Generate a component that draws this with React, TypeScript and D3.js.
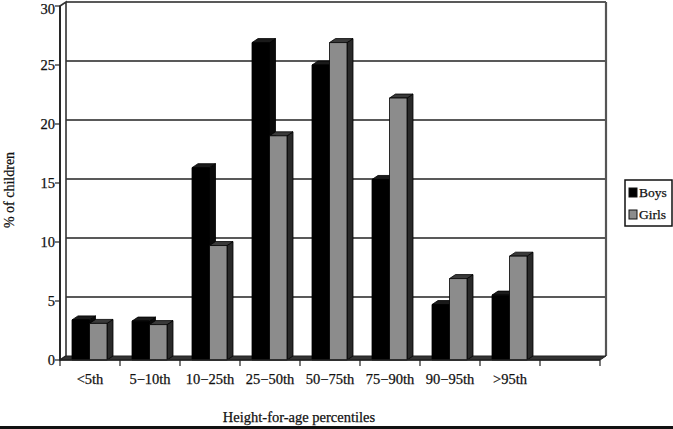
import React from "react";
import * as d3 from "d3";

const categories = ["<5th", "5\u221210th", "10\u221225th", "25\u221250th", "50\u221275th", "75\u221290th", "90\u221295th", ">95th", ""];
const seriesNames = ["Boys", "Girls"];
const boys = [3.4, 3.3, 16.3, 26.9, 25.0, 15.3, 4.7, 5.5, null];
const girls = [3.1, 3.0, 9.7, 19.0, 26.9, 22.2, 6.9, 8.8, null];
const yTicks = [0, 5, 10, 15, 20, 25, 30];

const W = 673;
const H = 429;
const DX = 6;
const DY = 4;
const FONT = "'Liberation Serif', 'Times New Roman', serif";

export default function App() {
  const x = d3.scaleBand<string>().domain(categories.map((c, i) => String(i))).range([60, 600]).padding(0);
  const inner = d3.scaleBand<string>().domain(seriesNames).range([12, 47]).padding(0);
  const y = d3.scaleLinear().domain([0, 30]).range([360, 6]);
  const fills = { Boys: { front: "#000", top: "#1a1a1a", side: "#0a0a0a" }, Girls: { front: "#8c8c8c", top: "#3a3a3a", side: "#2a2a2a" } } as const;
  const series = [boys, girls];

  const bars: React.ReactNode[] = [];
  categories.forEach((c, i) => {
    seriesNames.forEach((s, si) => {
      const v = series[si][i];
      if (v == null) return;
      const x0 = (x(String(i)) as number) + (inner(s) as number);
      const w = inner.bandwidth();
      const yt = y(v);
      const yb = y(0);
      const f = fills[s as "Boys" | "Girls"];
      bars.push(
        <g key={`${i}-${s}`} stroke="#000" strokeWidth={0.8} strokeLinejoin="round">
          <polygon points={`${x0 + w},${yt} ${x0 + w + DX},${yt - DY} ${x0 + w + DX},${yb - DY} ${x0 + w},${yb}`} fill={f.side} />
          <polygon points={`${x0},${yt} ${x0 + DX},${yt - DY} ${x0 + w + DX},${yt - DY} ${x0 + w},${yt}`} fill={f.top} />
          <rect x={x0} y={yt} width={w} height={yb - yt} fill={f.front} />
        </g>
      );
    });
  });

  const x0 = 60, x1 = 600;
  const txt = { fill: "#111", stroke: "#111", strokeWidth: 0.25 };
  return (
    <svg width={W} height={H} style={{ position: "absolute", left: 0, top: 0, background: "#fff" }} fontFamily={FONT}>
      <rect x={x0 + DX} y={y(30) - DY} width={x1 - x0} height={y(0) - y(30)} fill="#fff" />
      {yTicks.filter(t => t > 0).map(t => (
        <line key={t} x1={x0 + DX} x2={x1 + DX} y1={y(t) - DY} y2={y(t) - DY} stroke="#222" strokeWidth={1.6} />
      ))}
      <line x1={x1 + DX} x2={x1 + DX} y1={y(30) - DY} y2={y(0) - DY} stroke="#555" strokeWidth={2.2} />
      <polygon points={`${x0},${y(30)} ${x0 + DX},${y(30) - DY} ${x0 + DX},${y(0) - DY} ${x0},${y(0)}`} fill="#fff" stroke="#333" strokeWidth={1.6} />
      <polygon points={`${x0},${y(0)} ${x0 + DX},${y(0) - DY} ${x1 + DX},${y(0) - DY} ${x1},${y(0)}`} fill="#333" stroke="#222" strokeWidth={1} />
      {bars}
      <line x1={x0} x2={x0} y1={y(30)} y2={y(0)} stroke="#222" strokeWidth={1.8} />
      {yTicks.map(t => (
        <g key={t}>
          <line x1={x0 - 5} x2={x0} y1={y(t)} y2={y(t)} stroke="#222" strokeWidth={1.2} />
          <text x={x0 - 5} y={Math.max(y(t), 8.5)} dy="0.35em" textAnchor="end" fontSize={14.5} {...txt}>{t}</text>
        </g>
      ))}
      <line x1={x0} x2={x1} y1={y(0)} y2={y(0)} stroke="#222" strokeWidth={1.4} />
      {d3.range(categories.length + 1).map(i => {
        const tx = x0 + i * x.bandwidth();
        return <line key={i} x1={tx} x2={tx} y1={y(0)} y2={y(0) + 6} stroke="#222" strokeWidth={1.2} />;
      })}
      {categories.map((c, i) => (
        <text key={i} x={(x(String(i)) as number) + x.bandwidth() / 2} y={384} textAnchor="middle" fontSize={14.5} {...txt}>{c}</text>
      ))}
      <text x={299} y={422} textAnchor="middle" fontSize={14.5} {...txt}>Height-for-age percentiles</text>
      <text transform="translate(14,190) rotate(-90)" textAnchor="middle" fontSize={14} {...txt}>% of children</text>
      <rect x={625} y={180} width={47} height={46} fill="#fff" stroke="#111" strokeWidth={1.5} />
      {seriesNames.map((s, i) => (
        <g key={s}>
          <rect x={629} y={188 + i * 22} width={8} height={9} fill={fills[s as "Boys" | "Girls"].front} stroke="#111" strokeWidth={1} />
          <text x={639} y={197 + i * 22} fontSize={13.5} {...txt}>{s}</text>
        </g>
      ))}
      <rect x={0} y={426} width={W} height={3} fill="#111" />
    </svg>
  );
}
